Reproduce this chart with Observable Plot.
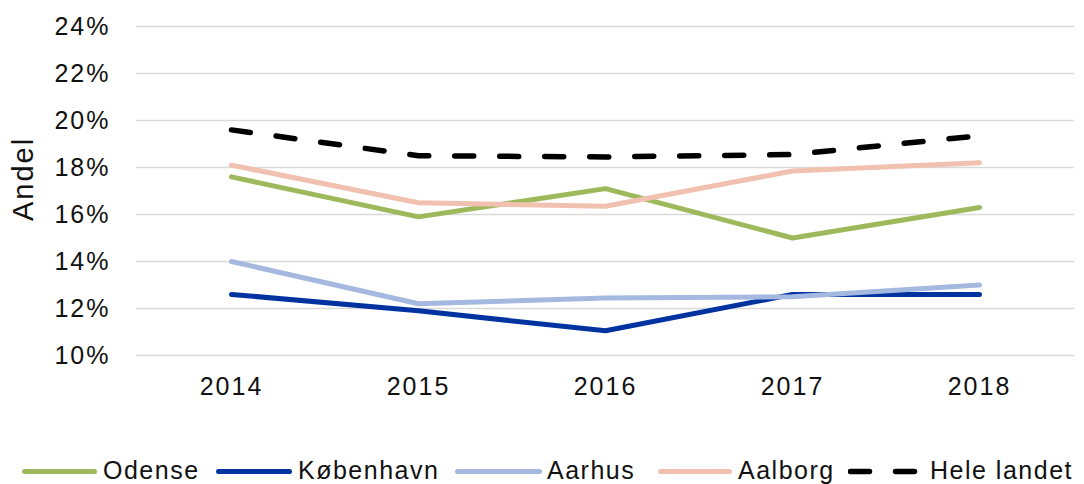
<!DOCTYPE html>
<html>
<head>
<meta charset="utf-8">
<script src="https://cdn.jsdelivr.net/npm/d3@7"></script>
<script src="https://cdn.jsdelivr.net/npm/@observablehq/plot@0.6"></script>
<style>
  html, body { margin: 0; padding: 0; background: #fff; }
  #wrap { position: relative; width: 1084px; height: 484px; overflow: hidden; background: #fff; }
  #legend { position: absolute; left: 0; top: 452px; width: 1084px; height: 36px;
            font-family: "Liberation Sans", Arial, sans-serif; font-size: 25px; letter-spacing: 1.5px; color: #111; line-height: 36px; white-space: nowrap; }
  #legend svg { position: absolute; top: 0; display: block; }
  #legend span { position: absolute; top: 0; }
</style>
</head>
<body>
<div id="wrap"><div id="chart"></div><div id="legend"></div></div>
<script>
const years = ["2014", "2015", "2016", "2017", "2018"];
const odense = [17.6, 15.9, 17.1, 15.0, 16.3];
const kobenhavn = [12.6, 11.9, 11.05, 12.6, 12.6];
const aarhus = [14.0, 12.2, 12.45, 12.5, 13.0];
const aalborg = [18.1, 16.5, 16.35, 17.85, 18.2];
const heleLandet = [19.6, 18.5, 18.45, 18.55, 19.35];
const seriesNames = ["Odense", "København", "Aarhus", "Aalborg", "Hele landet"];
const seriesValues = [odense, kobenhavn, aarhus, aalborg, heleLandet];
const colors = ["#9db95b", "#0033a0", "#a4b8e0", "#f2c0af", "#000000"];
const dashed = [false, false, false, false, true];
const yTicks = [10, 12, 14, 16, 18, 20, 22, 24];
const yLabel = "Andel";

// legend layout (pixel positions of swatch start / swatch end / label start)
const legendLayout = [[22, 97, 103], [216, 292, 298], [455, 542, 547], [658, 732, 738], [848, 925, 930]];

const rows = [];
seriesNames.forEach((name, i) => {
  years.forEach((yr, j) => rows.push({series: name, year: yr, value: seriesValues[i][j]}));
});

const lineMarks = seriesNames.map((name, i) =>
  Plot.line(rows.filter(r => r.series === name), {
    x: "year", y: "value",
    stroke: colors[i],
    strokeWidth: dashed[i] ? 5.5 : 5,
    strokeLinecap: "round",
    strokeLinejoin: "miter",
    strokeDasharray: dashed[i] ? "19,26" : null
  })
);

const chart = Plot.plot({
  width: 1084,
  height: 410,
  marginLeft: 136,
  marginRight: 10,
  marginTop: 26,
  marginBottom: 55,
  style: {fontFamily: "'Liberation Sans', Arial, sans-serif", fontSize: "25px", letterSpacing: "2px", color: "#111", background: "#fff"},
  x: {type: "point", domain: years, padding: 0.5, tickSize: 0, tickPadding: 22, label: null},
  y: {domain: [10, 24], ticks: yTicks, tickFormat: d => d + "%", tickSize: 0, tickPadding: 26, label: null},
  marks: [
    Plot.ruleY(yTicks, {stroke: "#d9d9d9", strokeWidth: 1.4}),
    ...lineMarks,
    Plot.text([yLabel], {frameAnchor: "left", dx: -113, dy: -12, rotate: -90, fontSize: 29, textAnchor: "middle", fill: "#111"})
  ]
});
document.getElementById("chart").appendChild(chart);

const legend = d3.select("#legend");
seriesNames.forEach((name, i) => {
  const [x0, x1, xt] = legendLayout[i];
  const w = x1 - x0;
  const svg = legend.append("svg").attr("width", w).attr("height", 36).style("left", x0 + "px");
  svg.append("line")
    .attr("x1", 2.5).attr("x2", w - 2.5).attr("y1", 19.5).attr("y2", 19.5)
    .attr("stroke", colors[i]).attr("stroke-width", dashed[i] ? 5.5 : 5)
    .attr("stroke-linecap", "round")
    .attr("stroke-dasharray", dashed[i] ? "19,26" : null);
  legend.append("span").style("left", xt + "px").text(name);
});
</script>
</body>
</html>
